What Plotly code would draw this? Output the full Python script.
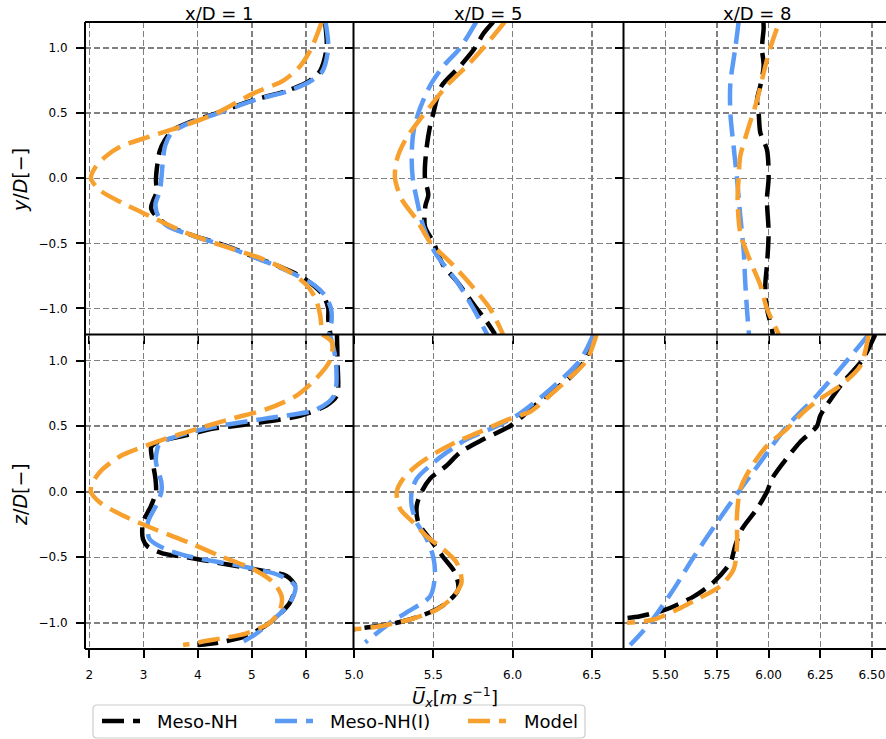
import plotly.graph_objects as go
from plotly.subplots import make_subplots

# ---------------- labels ----------------
section_titles = ["x/D = 1", "x/D = 5", "x/D = 8"]
series_names = ["Meso-NH", "Meso-NH(I)", "Model"]

col1_ticks = [2, 3, 4, 5, 6]
col1_ticklabels = ["2", "3", "4", "5", "6"]
col2_ticks = [5.0, 5.5, 6.0, 6.5]
col2_ticklabels = ["5.0", "5.5", "6.0", "6.5"]
col3_ticks = [5.5, 5.75, 6.0, 6.25, 6.5]
col3_ticklabels = ["5.50", "5.75", "6.00", "6.25", "6.50"]
y_ticks = [-1.0, -0.5, 0.0, 0.5, 1.0]
y_ticklabels = ["\u22121.0", "\u22120.5", "0.0", "0.5", "1.0"]

# ---------------- data: horizontal profiles (y/D) ----------------
# x/D = 1
y_h1_mnh = [1.2, 1.0, 0.825, 0.75, 0.67, 0.60, 0.50, 0.42, 0.37, 0.29, 0.21, 0.0, -0.11, -0.16, -0.23, -0.29, -0.37, -0.44, -0.52, -0.60, -0.67, -0.75, -0.82, -0.90, -1.0, -1.08, -1.2]
u_h1_mnh = [6.35, 6.38, 6.26, 6.07, 5.64, 5.02, 4.35, 3.79, 3.54, 3.39, 3.30, 3.23, 3.24, 3.19, 3.14, 3.23, 3.48, 3.92, 4.53, 5.02, 5.46, 5.89, 6.13, 6.32, 6.41, 6.41, 6.45]
y_h1_mnhi = [1.2, 1.0, 0.82, 0.75, 0.67, 0.60, 0.50, 0.42, 0.35, 0.25, 0.1, 0.0, -0.1, -0.2, -0.3, -0.37, -0.44, -0.52, -0.60, -0.67, -0.75, -0.82, -0.90, -1.0, -1.1, -1.2]
u_h1_mnhi = [6.36, 6.41, 6.30, 6.10, 5.68, 5.05, 4.38, 3.82, 3.52, 3.40, 3.35, 3.33, 3.30, 3.22, 3.28, 3.45, 3.90, 4.50, 5.00, 5.43, 5.85, 6.15, 6.35, 6.46, 6.47, 6.42]
y_h1_model = [1.2, 1.0, 0.86, 0.75, 0.65, 0.5, 0.40, 0.32, 0.24, 0.17, 0.09, 0.0, -0.09, -0.19, -0.29, -0.42, -0.52, -0.62, -0.72, -0.82, -0.92, -1.05, -1.2]
u_h1_model = [6.29, 6.10, 5.89, 5.58, 5.02, 4.35, 3.72, 3.11, 2.56, 2.31, 2.12, 2.03, 2.19, 2.61, 3.11, 3.79, 4.47, 5.20, 5.70, 6.01, 6.17, 6.26, 6.29]
# x/D = 5
y_h5_mnh = [1.2, 1.11, 1.0, 0.86, 0.71, 0.60, 0.50, 0.40, 0.24, 0.09, 0.0, -0.13, -0.21, -0.37, -0.49, -0.67, -0.79, -1.0, -1.1, -1.2]
u_h5_mnh = [5.878, 5.815, 5.762, 5.668, 5.552, 5.52, 5.50, 5.479, 5.458, 5.447, 5.447, 5.468, 5.45, 5.447, 5.50, 5.563, 5.647, 5.773, 5.836, 5.89]
y_h5_mnhi = [1.2, 1.0, 0.86, 0.71, 0.5, 0.35, 0.17, 0.0, -0.16, -0.37, -0.57, -0.79, -1.0, -1.2]
u_h5_mnhi = [5.77, 5.668, 5.563, 5.479, 5.405, 5.374, 5.363, 5.37, 5.395, 5.437, 5.51, 5.647, 5.752, 5.84]
y_h5_model = [1.2, 1.0, 0.86, 0.71, 0.55, 0.42, 0.29, 0.14, 0.0, -0.16, -0.32, -0.49, -0.67, -0.84, -1.0, -1.2]
u_h5_model = [5.95, 5.815, 5.71, 5.584, 5.479, 5.395, 5.321, 5.269, 5.258, 5.30, 5.395, 5.479, 5.626, 5.752, 5.857, 5.94]
# x/D = 8
y_h8_mnh = [1.2, 1.15, 1.0, 0.86, 0.71, 0.6, 0.5, 0.35, 0.22, 0.0, -0.16, -0.42, -0.67, -0.82, -1.0, -1.16, -1.2]
u_h8_mnh = [5.975, 5.976, 5.968, 5.976, 5.96, 5.944, 5.952, 5.96, 5.992, 6.0, 5.992, 6.0, 5.992, 5.984, 5.992, 6.016, 6.02]
y_h8_mnhi = [1.2, 1.0, 0.73, 0.5, 0.24, 0.0, -0.29, -0.55, -0.8, -1.0, -1.2]
u_h8_mnhi = [5.855, 5.839, 5.815, 5.815, 5.831, 5.847, 5.863, 5.879, 5.887, 5.895, 5.905]
y_h8_model = [1.15, 1.0, 0.86, 0.6, 0.35, 0.17, 0.0, -0.16, -0.42, -0.57, -0.67, -0.82, -1.0, -1.2]
u_h8_model = [6.04, 6.008, 5.984, 5.944, 5.895, 5.863, 5.855, 5.85, 5.863, 5.895, 5.92, 5.96, 5.992, 6.05]

# ---------------- data: vertical profiles (z/D) ----------------
# x/D = 1
z_v1_mnh = [1.2, 1.0, 0.735, 0.66, 0.58, 0.5, 0.48, 0.43, 0.40, 0.37, 0.34, 0.225, 0.1, 0.0, -0.107, -0.235, -0.362, -0.42, -0.47, -0.5, -0.54, -0.59, -0.643, -0.72, -0.847, -1.0, -1.1, -1.15, -1.17]
u_v1_mnh = [6.57, 6.58, 6.57, 6.38, 5.89, 4.65, 4.26, 3.78, 3.45, 3.22, 3.14, 3.17, 3.22, 3.23, 3.14, 2.99, 2.99, 3.08, 3.35, 3.79, 4.35, 5.02, 5.64, 5.80, 5.70, 5.33, 4.9, 4.4, 4.0]
z_v1_mnhi = [1.2, 1.0, 0.735, 0.63, 0.56, 0.5, 0.43, 0.37, 0.30, 0.225, 0.07, 0.0, -0.107, -0.235, -0.36, -0.44, -0.5, -0.57, -0.64, -0.72, -0.85, -1.0, -1.1, -1.17]
u_v1_mnhi = [6.44, 6.55, 6.52, 6.2, 5.27, 4.35, 3.67, 3.30, 3.24, 3.23, 3.33, 3.33, 3.23, 3.08, 3.11, 3.42, 3.91, 4.84, 5.52, 5.80, 5.70, 5.33, 5.02, 4.71]
z_v1_model = [1.2, 1.14, 1.0, 0.87, 0.735, 0.63, 0.56, 0.5, 0.43, 0.352, 0.28, 0.17, 0.07, 0.0, -0.08, -0.18, -0.29, -0.39, -0.49, -0.59, -0.69, -0.80, -0.90, -1.0, -1.08, -1.13, -1.17]
u_v1_model = [6.3, 6.48, 6.44, 6.2, 5.83, 5.27, 4.65, 4.15, 3.6, 3.05, 2.61, 2.24, 2.06, 2.03, 2.19, 2.61, 3.23, 3.85, 4.41, 5.02, 5.39, 5.55, 5.52, 5.33, 4.9, 4.28, 3.73]
# x/D = 5
z_v5_mnh = [1.2, 1.0, 0.87, 0.735, 0.58, 0.5, 0.4, 0.3, 0.2, 0.1, 0.0, -0.107, -0.235, -0.362, -0.5, -0.617, -0.745, -0.847, -0.92, -1.0, -1.05]
u_v5_mnh = [6.519, 6.455, 6.361, 6.214, 6.067, 5.983, 5.815, 5.668, 5.584, 5.479, 5.426, 5.395, 5.405, 5.479, 5.563, 5.636, 5.657, 5.584, 5.479, 5.269, 4.99]
z_v5_mnhi = [1.2, 1.0, 0.735, 0.58, 0.5, 0.4, 0.3, 0.2, 0.1, 0.0, -0.107, -0.235, -0.36, -0.5, -0.64, -0.8, -0.92, -1.0, -1.15]
u_v5_mnhi = [6.51, 6.424, 6.193, 6.025, 5.899, 5.71, 5.584, 5.479, 5.395, 5.363, 5.363, 5.395, 5.458, 5.50, 5.51, 5.479, 5.332, 5.227, 5.07]
z_v5_model = [1.2, 1.0, 0.87, 0.735, 0.61, 0.56, 0.455, 0.378, 0.30, 0.2, 0.1, 0.0, -0.13, -0.235, -0.34, -0.44, -0.54, -0.69, -0.80, -0.90, -0.975, -1.03, -1.05]
u_v5_model = [6.53, 6.466, 6.36, 6.235, 6.11, 5.99, 5.79, 5.64, 5.52, 5.395, 5.31, 5.269, 5.29, 5.374, 5.458, 5.563, 5.647, 5.678, 5.626, 5.52, 5.353, 5.143, 5.0]
# x/D = 8
z_v8_mnh = [1.2, 1.0, 0.87, 0.735, 0.58, 0.5, 0.38, 0.225, 0.1, 0.0, -0.13, -0.285, -0.41, -0.54, -0.69, -0.80, -0.90, -0.95, -0.97]
u_v8_mnh = [6.516, 6.451, 6.379, 6.314, 6.25, 6.234, 6.153, 6.073, 6.017, 5.992, 5.944, 5.871, 5.839, 5.815, 5.734, 5.637, 5.50, 5.379, 5.28]
z_v8_mnhi = [1.2, 1.0, 0.735, 0.5, 0.225, 0.0, -0.235, -0.5, -0.745, -1.0, -1.17]
u_v8_mnhi = [6.484, 6.379, 6.234, 6.089, 5.96, 5.855, 5.75, 5.637, 5.54, 5.427, 5.33]
z_v8_model = [1.2, 0.96, 0.81, 0.71, 0.61, 0.48, 0.35, 0.175, 0.02, -0.18, -0.41, -0.59, -0.72, -0.82, -0.90, -0.975, -1.0]
u_v8_model = [6.484, 6.444, 6.347, 6.25, 6.17, 6.089, 5.992, 5.911, 5.863, 5.847, 5.847, 5.831, 5.766, 5.653, 5.556, 5.444, 5.315]

# ---------------- figure ----------------
colors = ["#000000", "#5B9BF5", "#F7A02E"]
line_dash = "22px,9px"
line_width = 4.5

panels = [
    [(u_h1_mnh, y_h1_mnh), (u_h1_mnhi, y_h1_mnhi), (u_h1_model, y_h1_model)],
    [(u_h5_mnh, y_h5_mnh), (u_h5_mnhi, y_h5_mnhi), (u_h5_model, y_h5_model)],
    [(u_h8_mnh, y_h8_mnh), (u_h8_mnhi, y_h8_mnhi), (u_h8_model, y_h8_model)],
    [(u_v1_mnh, z_v1_mnh), (u_v1_mnhi, z_v1_mnhi), (u_v1_model, z_v1_model)],
    [(u_v5_mnh, z_v5_mnh), (u_v5_mnhi, z_v5_mnhi), (u_v5_model, z_v5_model)],
    [(u_v8_mnh, z_v8_mnh), (u_v8_mnhi, z_v8_mnhi), (u_v8_model, z_v8_model)],
]

fig = make_subplots(rows=2, cols=3, horizontal_spacing=0, vertical_spacing=0)

for p, series in enumerate(panels):
    r, c = p // 3 + 1, p % 3 + 1
    for s, (u, y) in enumerate(series):
        fig.add_trace(go.Scatter(
            x=u, y=y, mode="lines", name=series_names[s],
            legendgroup=series_names[s], showlegend=False,
            line=dict(color=colors[s], width=line_width, dash=line_dash,
                      shape="spline", smoothing=0.8),
            hoverinfo="skip"), row=r, col=c)

# page body margin is removed (see post_script), so figure px == screen px
W, H = 886, 739
col_edges = [85, 353.5, 623.5, 886]
row_edges = [22, 334.5, 649]
ml, mr = col_edges[0], W - col_edges[3]
mt, mb = row_edges[0], H - row_edges[2]
pw, ph = W - ml - mr, H - mt - mb

def px_x(sx):
    return (sx - ml) / pw

def px_y(sy):
    return (H - mb - sy) / ph

xdom = [[px_x(col_edges[i]), px_x(col_edges[i + 1])] for i in range(3)]
xdom[0][0], xdom[2][1] = 0.0, 1.0
ydom = [[px_y(row_edges[1]), 1.0], [0.0, px_y(row_edges[1])]]
xranges = [[1.92, 6.876], [4.996, 6.70], [5.298, 6.568]]
xticks = [col1_ticks, col2_ticks, col3_ticks]
xticklabels = [col1_ticklabels, col2_ticklabels, col3_ticklabels]

tickfont = dict(family="DejaVu Sans", size=12, color="black")
common = dict(showline=False, automargin=False,
              ticks="outside", ticklen=8, tickwidth=2, tickcolor="black",
              showgrid=True, gridcolor="#808080", gridwidth=1.5,
              griddash="6px,3px", zeroline=False, tickfont=tickfont,
              ticklabeloverflow="allow")

for r in range(2):
    for c in range(3):
        idx = r * 3 + c + 1
        xa = "xaxis" if idx == 1 else f"xaxis{idx}"
        ya = "yaxis" if idx == 1 else f"yaxis{idx}"
        fig.layout[xa].update(domain=xdom[c], range=xranges[c],
                              tickvals=xticks[c], ticktext=xticklabels[c],
                              showticklabels=(r == 1),
                              ticklabelstandoff=7, **common)
        fig.layout[ya].update(domain=ydom[r], range=[-1.2, 1.2],
                              tickvals=y_ticks, ticktext=y_ticklabels,
                              showticklabels=(c == 0),
                              ticklabelstandoff=6, **common)

# panel frames (the right edge of the last column lies outside the picture)
shapes = []
for xe in col_edges[:3]:
    shapes.append(dict(type="line", xref="paper", yref="paper",
                       x0=px_x(xe), x1=px_x(xe), y0=0, y1=1,
                       line=dict(color="black", width=2), layer="above"))
for ye in row_edges:
    shapes.append(dict(type="line", xref="paper", yref="paper",
                       x0=0, x1=1, y0=px_y(ye), y1=px_y(ye),
                       line=dict(color="black", width=2), layer="above"))

title_font = dict(family="DejaVu Sans", size=18, color="black")
annotations = []
for c in range(3):
    xc = (xdom[c][0] + xdom[c][1]) / 2 if c < 2 else px_x(757.5)
    annotations.append(dict(text=section_titles[c], xref="paper", yref="paper",
                            x=xc, y=px_y(13),
                            xanchor="center", yanchor="middle", showarrow=False,
                            font=title_font))
annotations.append(dict(text="<i>y</i>/<i>D</i>[\u2212]", xref="paper", yref="paper",
                        x=px_x(20), y=px_y(180), textangle=-90,
                        xanchor="center", yanchor="middle", showarrow=False,
                        font=dict(family="DejaVu Sans", size=19, color="black")))
annotations.append(dict(text="<i>z</i>/<i>D</i>[\u2212]", xref="paper", yref="paper",
                        x=px_x(20), y=px_y(495), textangle=-90,
                        xanchor="center", yanchor="middle", showarrow=False,
                        font=dict(family="DejaVu Sans", size=19, color="black")))
annotations.append(dict(text="<i>U\u0305</i><sub><i>x</i></sub>[<i>m s</i><sup>\u22121</sup>]",
                        xref="paper", yref="paper",
                        x=px_x(455), y=px_y(697),
                        xanchor="center", yanchor="middle", showarrow=False,
                        font=dict(family="DejaVu Sans", size=18, color="black")))

# legend (drawn as a framed box with line samples and text labels)
leg_box = (93, 705, 585, 738)          # px: x0, y0, x1, y1
leg_sample_x = [102, 275, 468]
leg_sample_len = 38
leg_text_x = [155, 328, 522]
leg_y = 721
bx0, by0, bx1, by1 = leg_box
rad = 4
rx, ry = rad / pw, rad / ph
X0, X1 = px_x(bx0), px_x(bx1)
Y0, Y1 = px_y(by0), px_y(by1)   # Y0 top, Y1 bottom (paper units)
path = (f"M {X0 + rx},{Y0} L {X1 - rx},{Y0} Q {X1},{Y0} {X1},{Y0 - ry} "
        f"L {X1},{Y1 + ry} Q {X1},{Y1} {X1 - rx},{Y1} "
        f"L {X0 + rx},{Y1} Q {X0},{Y1} {X0},{Y1 + ry} "
        f"L {X0},{Y0 - ry} Q {X0},{Y0} {X0 + rx},{Y0} Z")
shapes.append(dict(type="path", xref="paper", yref="paper", path=path,
                   fillcolor="white", line=dict(color="#cccccc", width=1.2),
                   layer="above"))
for s in range(3):
    shapes.append(dict(type="line", xref="paper", yref="paper",
                       x0=px_x(leg_sample_x[s]),
                       x1=px_x(leg_sample_x[s] + leg_sample_len),
                       y0=px_y(leg_y), y1=px_y(leg_y),
                       line=dict(color=colors[s], width=line_width, dash=line_dash),
                       layer="above"))
    annotations.append(dict(text=series_names[s], xref="paper", yref="paper",
                            x=px_x(leg_text_x[s]), y=px_y(leg_y),
                            xanchor="left", yanchor="middle", showarrow=False,
                            font=dict(family="DejaVu Sans", size=18, color="black")))

fig.update_layout(
    template="none",
    width=W, height=H,
    margin=dict(l=ml, r=mr, t=mt, b=mb, autoexpand=False),
    paper_bgcolor="white", plot_bgcolor="white",
    font=dict(family="DejaVu Sans", color="black"),
    annotations=annotations,
    shapes=shapes,
    showlegend=False,
    hovermode=False,
)

fig.write_html("out.html",
               config={"displayModeBar": False, "staticPlot": True},
               post_script="document.body.style.margin='0';"
                           "document.body.style.overflow='hidden';")
